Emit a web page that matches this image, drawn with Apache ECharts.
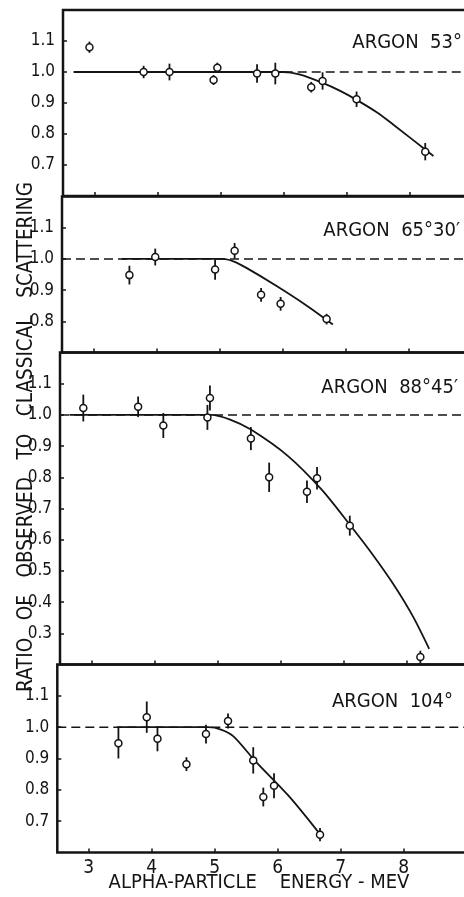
<!DOCTYPE html>
<html>
<head>
<meta charset="utf-8">
<script src="https://cdn.jsdelivr.net/npm/echarts@6/dist/echarts.min.js"></script>
<style>
html, body { margin: 0; padding: 0; background: #fff; }
#chart { width: 464px; height: 897px; }
</style>
</head>
<body>
<div id="chart"></div>
<script>
// ARGON 53°
const energy53 = [2.92, 3.78, 4.19, 4.89, 4.95, 5.58, 5.87, 6.44, 6.62, 7.16, 8.25];
const ratio53 = [1.08, 1.0, 1.0, 0.974, 1.014, 0.995, 0.995, 0.951, 0.971, 0.912, 0.743];
const err53 = [0.018, 0.02, 0.027, 0.016, 0.016, 0.03, 0.035, 0.017, 0.028, 0.025, 0.028];
const curveE53 = [2.67, 6.0, 6.25, 6.63, 6.9, 7.16, 7.48, 7.75, 8.38];
const curveR53 = [1.0, 1.0, 0.992, 0.964, 0.939, 0.91, 0.87, 0.829, 0.729];

// ARGON 65°30'
const energy65 = [3.57, 3.98, 4.93, 5.24, 5.66, 5.97, 6.7];
const ratio65 = [0.948, 1.006, 0.966, 1.026, 0.885, 0.856, 0.807];
const err65 = [0.03, 0.027, 0.033, 0.025, 0.022, 0.022, 0.017];
const curveE65 = [3.45, 5.05, 5.22, 5.42, 5.9, 6.38, 6.8];
const curveR65 = [1.0, 1.0, 0.992, 0.972, 0.914, 0.851, 0.79];

// ARGON 88°45'
const energy88 = [2.87, 3.74, 4.14, 4.84, 4.88, 5.53, 5.82, 6.42, 6.58, 7.1, 8.22];
const ratio88 = [1.022, 1.026, 0.966, 0.992, 1.054, 0.924, 0.8, 0.754, 0.797, 0.645, 0.224];
const err88 = [0.043, 0.033, 0.04, 0.04, 0.04, 0.037, 0.047, 0.036, 0.036, 0.032, 0.02];
const curveE88 = [2.65, 4.9, 5.2, 5.53, 6.12, 6.65, 7.1, 7.45, 7.8, 8.1, 8.36];
const curveR88 = [1.0, 1.0, 0.985, 0.953, 0.868, 0.761, 0.648, 0.556, 0.455, 0.355, 0.25];

// ARGON 104°
const energy104 = [3.47, 3.92, 4.09, 4.55, 4.86, 5.21, 5.61, 5.77, 5.94, 6.67];
const ratio104 = [0.949, 1.032, 0.963, 0.882, 0.978, 1.02, 0.894, 0.777, 0.813, 0.657];
const err104 = [0.049, 0.05, 0.04, 0.022, 0.03, 0.024, 0.042, 0.03, 0.04, 0.021];
const curveE104 = [3.45, 4.9, 5.1, 5.3, 5.65, 6.18, 6.71];
const curveR104 = [1.0, 1.0, 0.992, 0.97, 0.89, 0.779, 0.648];

const xTicks = [3, 4, 5, 6, 7, 8];
const panelNames = ['ARGON  53°', 'ARGON  65°30′', 'ARGON  88°45′', 'ARGON  104°'];

const FONT = '"Liberation Sans Narrow", "DejaVu Sans Condensed", sans-serif';
const INK = '#141414';

const panels = [
    { E: energy53, R: ratio53, Err: err53, cE: curveE53, cR: curveR53, min: 0.6, dash0: 2.67,
      left: 63, top: 10, height: 186, nameX: 462, nameY: 43 },
    { E: energy65, R: ratio65, Err: err65, cE: curveE65, cR: curveR65, min: 0.7, dash0: 2.5,
      left: 62, top: 196.5, height: 156, nameX: 460, nameY: 231 },
    { E: energy88, R: ratio88, Err: err88, cE: curveE88, cR: curveR88, min: 0.2, dash0: 2.5,
      left: 60, top: 352.5, height: 312, nameX: 458, nameY: 388 },
    { E: energy104, R: ratio104, Err: err104, cE: curveE104, cR: curveR104, min: 0.6, dash0: 2.5,
      left: 57.3, top: 664.5, height: 188, nameX: 453, nameY: 702 }
]

const grid = []
const xAxis = []
const yAxis = []
const series = []

panels.forEach((p, i) => {
    grid.push({
        left: p.left, top: p.top, height: p.height, width: 409.5,
        outerBoundsMode: 'none', containLabel: false,
        show: true, borderColor: INK, borderWidth: 2.5, backgroundColor: 'transparent'
    })
    xAxis.push({
        gridIndex: i, type: 'value', min: 2.5, max: 9, minInterval: 1, maxInterval: 1,
        axisLine: { show: false },
        axisTick: { show: true, inside: true, length: 4, lineStyle: { color: INK, width: 1.5 } },
        splitLine: { show: false },
        axisLabel: {
            show: i === 3, showMinLabel: false, showMaxLabel: false, margin: 6,
            color: INK, fontSize: 19, fontFamily: FONT,
            formatter: v => xTicks.includes(v) ? String(v) : ''
        }
    })
    yAxis.push({
        gridIndex: i, type: 'value', min: p.min, max: 1.2, interval: 0.1,
        axisLine: { show: false },
        axisTick: { show: true, inside: true, length: 4, lineStyle: { color: INK, width: 1.5 } },
        splitLine: { show: false },
        axisLabel: {
            showMinLabel: false, showMaxLabel: false, margin: 8,
            color: INK, fontSize: 17, fontFamily: FONT,
            formatter: v => v.toFixed(1)
        }
    })
    // dashed classical line
    series.push({
        type: 'line', xAxisIndex: i, yAxisIndex: i, data: [[p.dash0, 1.0], [9, 1.0]],
        symbol: 'none', silent: true, z: 1,
        lineStyle: { color: INK, width: 1.5, type: [9, 5] }
    })
    // fitted curve
    series.push({
        type: 'line', xAxisIndex: i, yAxisIndex: i,
        data: p.cE.map((e, k) => [e, p.cR[k]]),
        symbol: 'none', smooth: 0.3, silent: true, z: 2,
        lineStyle: { color: INK, width: 1.8 }
    })
    // error bars
    series.push({
        type: 'custom', xAxisIndex: i, yAxisIndex: i, z: 3, silent: true,
        data: p.E.map((e, k) => [e, p.R[k] - p.Err[k], p.R[k] + p.Err[k]]),
        encode: { x: 0, y: [1, 2] },
        renderItem: (params, api) => {
            const a = api.coord([api.value(0), api.value(1)])
            const b = api.coord([api.value(0), api.value(2)])
            return {
                type: 'line',
                shape: { x1: a[0], y1: a[1], x2: b[0], y2: b[1] },
                style: { stroke: INK, lineWidth: 1.8 }
            }
        }
    })
    // measured points
    series.push({
        type: 'scatter', xAxisIndex: i, yAxisIndex: i, z: 4, silent: true,
        data: p.E.map((e, k) => [e, p.R[k]]),
        symbol: 'circle', symbolSize: 7,
        itemStyle: { color: '#fff', borderColor: INK, borderWidth: 1.5, opacity: 1 }
    })
})

const graphic = panels.map((p, i) => ({
    type: 'text', x: p.nameX, y: p.nameY,
    style: {
        text: panelNames[i], fill: INK, font: '20px ' + FONT,
        textAlign: 'right', textVerticalAlign: 'middle'
    }
}))
graphic.push({
    type: 'text', x: 27, y: 437, rotation: Math.PI / 2,
    style: {
        text: 'RATIO   OF   OBSERVED   TO   CLASSICAL   SCATTERING', fill: INK,
        font: '20.5px ' + FONT, textAlign: 'center', textVerticalAlign: 'middle'
    }
})
graphic.push({
    type: 'text', x: 259, y: 883,
    style: {
        text: 'ALPHA-PARTICLE    ENERGY - MEV', fill: INK,
        font: '20px ' + FONT, textAlign: 'center', textVerticalAlign: 'middle'
    }
})

const chart = echarts.init(document.getElementById('chart'))
chart.setOption({
    backgroundColor: '#fff',
    animation: false,
    grid, xAxis, yAxis, series, graphic
})
</script>
</body>
</html>
